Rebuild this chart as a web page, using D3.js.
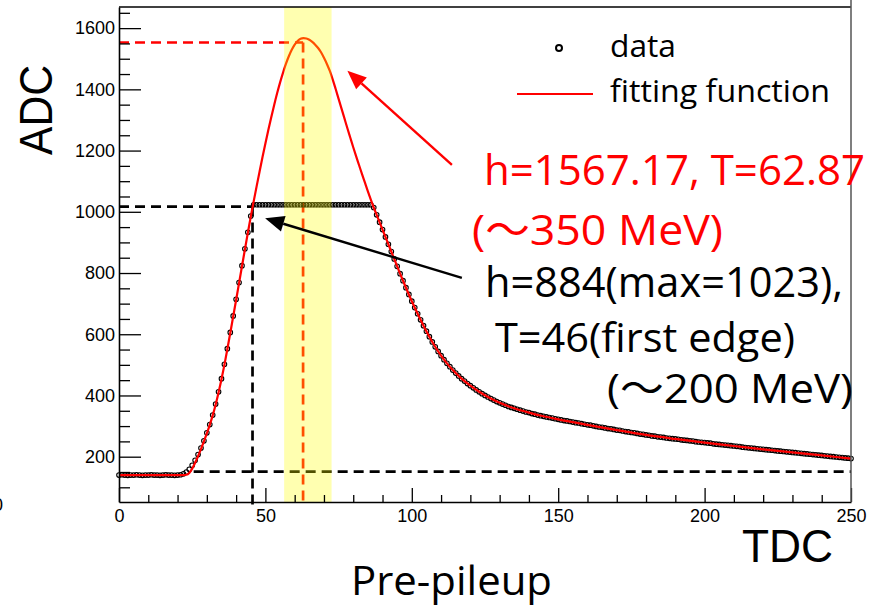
<!DOCTYPE html>
<html><head><meta charset="utf-8">
<script src="https://cdn.jsdelivr.net/npm/d3@7"></script>
<style>body{margin:0;background:#fff}</style>
</head><body>
<svg id="c" width="884" height="608"></svg>
<script>
// ---------------- data ----------------
// ADC value for each TDC channel 0..250 (index = TDC)
const adcData = [
 140,141,140,139,140,140,141,140,139,140,
 140,141,140,140,139,140,141,140,140,139,
 140,141,144,150,159,172,188,207,228,252,
 278,305,336,372,412,455,502,553,606,660,
 714,769,824,879,933,986,1023,1023,1023,1023,
 1023,1023,1023,1023,1023,1023,1023,1023,1023,1023,
 1023,1023,1023,1023,1023,1023,1023,1023,1023,1023,
 1023,1023,1023,1023,1023,1023,1023,1023,1023,1023,
 1023,1023,1023,1023,1023,1023,1023,1014,990,966,
 942,918,894,870,846,822,798,775,752,730,
 708,687,667,647,628,610,592,575,559,544,
 530,517,505,494,483,473,464,455,447,439,
 432,425,418,412,406,400,395,390,385,380,
 376,372,368,364,361,358,355,352,349,346,
 344,341,339,336,334,332,330,328,326,324,
 322,320,318,317,315,313,311,310,308,306,
 304,303,301,299,297,296,294,292,291,289,
 287,286,284,282,281,279,278,276,274,273,
 271,270,268,267,265,264,263,261,260,259,
 258,257,255,254,253,252,251,249,248,247,
 246,245,244,242,241,240,239,238,237,236,
 235,234,233,231,230,229,228,227,226,225,
 224,223,222,221,220,219,218,217,216,215,
 214,213,212,211,210,209,208,207,206,205,
 204,203,202,201,200,199,198,197,196,195,
 194
];
// fitting function samples
const fitT = [0,5,10,15,20,22,23,24,25,26,27,28,29,30,31,32,33,34,35,36,37,38,39,40,41,42,43,44,45,
 46,47,48,49,50,51,52,53,54,55,56,57,58,59,60,61,62,63,64,65,66,67,68,69,70,71,72,73,74,75,76,77,78,79,80,81,82,83,84,85,86,87,
 88,90,92,94,96,98,100,102,104,106,108,110,112,114,117,120,123,126,130,135,140,145,150,160,170,180,190,200,210,220,230,240,250];
const fitADC = [140,140,140,140,140,140,141,147,161,180,202,225,250,276,304,335,370,410,453,500,551,604,658,712,767,822,877,931,984,
 1034,1083,1131,1178,1223,1267,1309,1349,1387,1422,1454,1483,1508,1529,1546,1558,1565,1567,1566,1562,1555,1546,1535,1521,1503,1483,1460,1432,1401,1369,1337,1305,1273,1242,1211,1181,1152,1123,1095,1067,1040,1014,
 990,942,894,846,798,752,708,667,628,592,559,530,505,483,455,432,412,395,376,358,344,332,322,304,287,271,258,246,235,224,214,204,194];

const xMajor = [0,50,100,150,200,250];
const xMinor = [10,20,30,40,60,70,80,90,110,120,130,140,160,170,180,190,210,220,230,240];
const yMajor = [200,400,600,800,1000,1200,1400,1600];
const yMinor = [100,150,250,300,350,450,500,550,650,700,750,850,900,950,1050,1100,1150,1250,1300,1350,1450,1500,1550,1650];

// reference markers (data coordinates)
const fitPeak = {h: 1553, T: 62.87};
const edge = {h: 1017, T: 45.6};
const baseline = {h: 151, from: 25.5};
const band = [56.4, 72.6];
const redArrow = {tail: [113.7, 1153], tip: [78.0, 1461]};
const blackArrow = {tail: [117.1, 784], tip: [49.9, 979]};

// ---------------- drawing ----------------
const svg = d3.select("#c");
const L = 119, R = 851, T = 7, B = 502;
const x = d3.scaleLinear().domain([0, 250]).range([L, R]);
const y = d3.scaleLinear().domain([52, 1669]).range([B, T]);
const tickFont = "'Liberation Sans', Arial, Helvetica, sans-serif";
const annFont = "'Open Sans', 'Noto Sans', 'Noto Sans CJK JP', sans-serif";

// dashed guide lines
const dashed = (x1, y1, x2, y2, col) => svg.append("line")
  .attr("x1", x(x1)).attr("y1", y(y1)).attr("x2", x(x2)).attr("y2", y(y2))
  .attr("stroke", col).attr("stroke-width", 2.7).attr("stroke-dasharray", "10,6");
dashed(0, edge.h, edge.T, edge.h, "#000");
dashed(edge.T, edge.h, edge.T, 32, "#000");
dashed(baseline.from, baseline.h, 250, baseline.h, "#000");
dashed(0, fitPeak.h, fitPeak.T, fitPeak.h, "#ff0000");
dashed(fitPeak.T, fitPeak.h, fitPeak.T, 52, "#ff0000");

// data points
svg.append("g").selectAll("circle").data(adcData).join("circle")
  .attr("cx", (d, i) => x(i)).attr("cy", d => y(d)).attr("r", 2.3)
  .attr("fill", "none").attr("stroke", "#000").attr("stroke-width", 1.1);

// fitting function
const line = d3.line().x(d => x(d[0])).y(d => y(d[1])).curve(d3.curveMonotoneX);
svg.append("path").datum(fitT.map((t, i) => [t, fitADC[i]]))
  .attr("d", line).attr("fill", "none").attr("stroke", "#ff0000").attr("stroke-width", 2.2);

// yellow band (translucent, on top)
svg.append("rect").attr("x", x(band[0])).attr("width", x(band[1]) - x(band[0]))
  .attr("y", T).attr("height", B - T).attr("fill", "rgb(255,255,0)").attr("fill-opacity", 0.31);

// axes
const gy = svg.append("g").attr("transform", `translate(${L},0)`)
  .call(d3.axisLeft(y).tickValues(yMajor).tickSizeInner(-22).tickSizeOuter(0).tickPadding(4).tickFormat(d3.format("d")));
const gy2 = svg.append("g").attr("transform", `translate(${L},0)`)
  .call(d3.axisLeft(y).tickValues(yMinor).tickSizeInner(-11).tickSizeOuter(0).tickFormat(""));
const gx = svg.append("g").attr("transform", `translate(0,${B})`)
  .call(d3.axisBottom(x).tickValues(xMajor).tickSizeInner(-14).tickSizeOuter(0).tickPadding(7).tickFormat(d3.format("d")));
const gx2 = svg.append("g").attr("transform", `translate(0,${B})`)
  .call(d3.axisBottom(x).tickValues(xMinor).tickSizeInner(-7).tickSizeOuter(0).tickFormat(""));
[gy, gy2, gx, gx2].forEach(g => {
  g.selectAll("line").attr("stroke", "#000").attr("stroke-width", 1.3);
  g.select(".domain").attr("stroke", "#000").attr("stroke-width", 1.6);
  g.selectAll("text").attr("font-family", tickFont).attr("font-size", 18).attr("fill", "#000");
});
gy2.select(".domain").remove(); gx2.select(".domain").remove();
// frame top / right
svg.append("line").attr("x1", L).attr("x2", R).attr("y1", T).attr("y2", T).attr("stroke", "#000").attr("stroke-width", 1.3);
svg.append("line").attr("x1", R).attr("x2", R).attr("y1", 0).attr("y2", B).attr("stroke", "#555").attr("stroke-width", 1.5);

// axis titles
svg.append("text").attr("transform", "translate(52,155) rotate(-90)")
  .attr("font-family", tickFont).attr("font-size", 46).attr("textLength", 90).attr("lengthAdjust", "spacingAndGlyphs").text("ADC");
svg.append("text").attr("x", 742).attr("y", 562)
  .attr("font-family", tickFont).attr("font-size", 46).attr("textLength", 91).attr("lengthAdjust", "spacingAndGlyphs").text("TDC");
svg.append("text").attr("x", -7).attr("y", 511).attr("font-family", tickFont).attr("font-size", 18).text("0");

// annotation texts
const ann = (tx, ty, txt, col, size, len) => svg.append("text").attr("x", tx).attr("y", ty)
  .attr("font-family", annFont).attr("font-size", size).attr("fill", col)
  .attr("textLength", len).attr("lengthAdjust", "spacingAndGlyphs").text(txt);
ann(351, 595, "Pre-pileup", "#000", 41, 201);
ann(610, 57, "data", "#000", 31, 66);
ann(610, 102, "fitting function", "#000", 31, 220);
ann(484, 185, "h=1567.17, T=62.87", "#ff0000", 42, 381);
ann(472, 245, "(〜350 MeV)", "#ff0000", 42, 251);
ann(485, 297, "h=884(max=1023),", "#000", 42, 358);
ann(495, 352, "T=46(first edge)", "#000", 41, 300);
ann(607, 403, "(〜200 MeV)", "#000", 41, 246);

// legend markers
svg.append("circle").attr("cx", 559).attr("cy", 48).attr("r", 3).attr("fill", "none").attr("stroke", "#000").attr("stroke-width", 2);
svg.append("line").attr("x1", 517).attr("x2", 593).attr("y1", 94).attr("y2", 94).attr("stroke", "#ff0000").attr("stroke-width", 2);

// arrows
function arrow(a, col) {
  const x1 = x(a.tail[0]), y1 = y(a.tail[1]), x2 = x(a.tip[0]), y2 = y(a.tip[1]);
  const ang = Math.atan2(y2 - y1, x2 - x1), hl = 19, hw = 8;
  const bx = x2 - hl * Math.cos(ang), by = y2 - hl * Math.sin(ang);
  svg.append("line").attr("x1", x1).attr("y1", y1).attr("x2", bx).attr("y2", by)
    .attr("stroke", col).attr("stroke-width", 2.4);
  const px = -Math.sin(ang) * hw, py = Math.cos(ang) * hw;
  svg.append("polygon").attr("points", `${x2},${y2} ${bx + px},${by + py} ${bx - px},${by - py}`).attr("fill", col);
}
arrow(redArrow, "#ff0000");
arrow(blackArrow, "#000");
</script></body></html>
